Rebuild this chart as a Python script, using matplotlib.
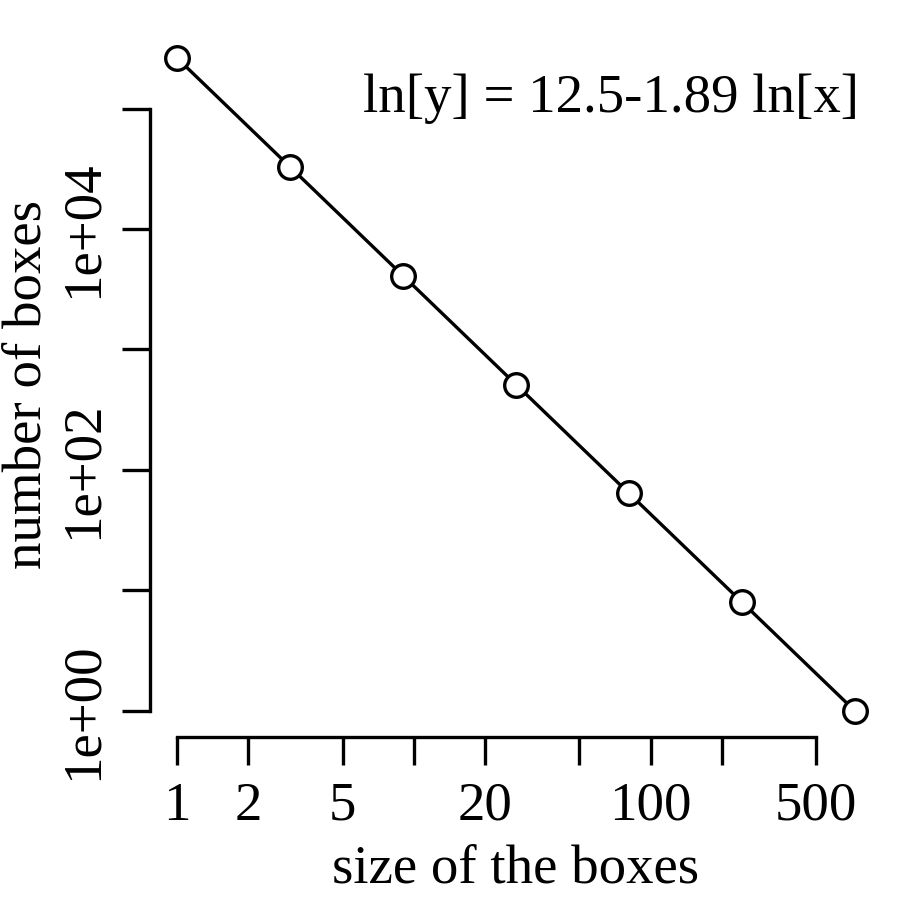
import numpy as np
import matplotlib.pyplot as plt

# box-counting data: box size vs number of boxes
box_size = [1, 3, 9, 27, 81, 243, 729]
n_boxes = [262144, 32768, 4096, 512, 64, 8, 1]

x_ticks = [1, 2, 5, 10, 20, 50, 100, 200, 500]
x_labels = ['1', '2', '5', '', '20', '', '100', '', '500']
y_ticks = [1, 10, 100, 1000, 10000, 100000]
y_labels = ['1e+00', '', '1e+02', '', '1e+04', '']
fit_text = 'ln[y] = 12.5-1.89 ln[x]'

plt.rcParams['font.family'] = ['Liberation Serif', 'DejaVu Serif']
fs = 39.5

fig = plt.figure(figsize=(9, 9), dpi=100)
ax = fig.add_axes([150/900, 163/900, 732/900, 705/900])

ax.plot(box_size, n_boxes, color='black', lw=2.4, marker='o', ms=17,
        mfc='white', mec='black', mew=2.4, zorder=3, clip_on=False)
ax.set_xscale('log')
ax.set_yscale('log')

# R-style 4% range extension
lx = np.log10(box_size)
dx = 0.04 * (lx.max() - lx.min())
ax.set_xlim(10**(lx.min() - dx), 10**(lx.max() + dx))
ly = np.log10(n_boxes)
dy = 0.04 * (ly.max() - ly.min())
ax.set_ylim(10**(ly.min() - dy), 10**(ly.max() + dy))

ax.set_xticks(x_ticks)
ax.set_xticklabels(x_labels)
ax.set_yticks(y_ticks)
ax.set_yticklabels(y_labels, rotation=90, va='center')
ax.minorticks_off()

for s in ['top', 'right']:
    ax.spines[s].set_visible(False)
ax.spines['left'].set_bounds(y_ticks[0], y_ticks[-1])
ax.spines['bottom'].set_bounds(x_ticks[0], x_ticks[-1])
ax.spines['left'].set_linewidth(2.4)
ax.spines['bottom'].set_linewidth(2.4)
ax.tick_params(axis='x', direction='out', length=20, width=2.4,
               labelsize=fs, pad=12)
ax.tick_params(axis='y', direction='out', length=20, width=2.4,
               labelsize=fs, pad=10)

ax.set_xlabel('size of the boxes', fontsize=fs, labelpad=9)
ax.set_ylabel('number of boxes', fontsize=fs, labelpad=4)

ax.text(0.968, 0.905, fit_text, transform=ax.transAxes,
        ha='right', va='center', fontsize=fs)

fig.savefig('out.png', dpi=100)
